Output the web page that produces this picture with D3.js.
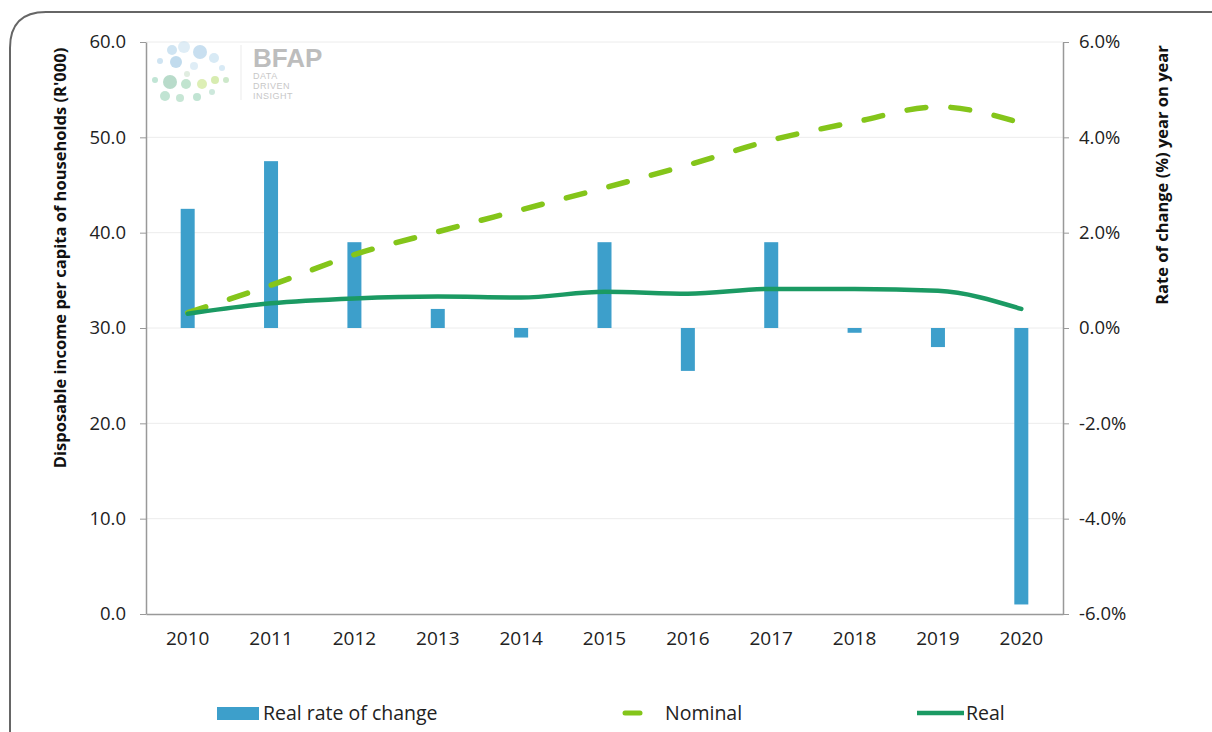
<!DOCTYPE html>
<html>
<head>
<meta charset="utf-8">
<script src="https://cdn.jsdelivr.net/npm/d3@7"></script>
<style>
  body { margin: 0; background: #fff; }
  svg { display: block; font-family: "Open Sans", sans-serif; }
</style>
</head>
<body>
<svg id="chart" width="1212" height="732"></svg>
<script>
// chart values
const years = ['2010', '2011', '2012', '2013', '2014', '2015', '2016', '2017', '2018', '2019', '2020'];
const realRate = [2.5, 3.5, 1.8, 0.4, -0.2, 1.8, -0.9, 1.8, -0.1, -0.4, -5.8];
const nominal = [31.6, 34.5, 37.7, 40.1, 42.4, 44.7, 47.1, 49.7, 51.6, 53.2, 51.5];
const real = [31.5, 32.6, 33.1, 33.3, 33.2, 33.8, 33.6, 34.1, 34.1, 33.9, 32.0];
const leftTicks = [0, 10, 20, 30, 40, 50, 60];
const rightTicks = [-6, -4, -2, 0, 2, 4, 6];

const svg = d3.select('#chart');
const plotLeft = 146, plotRight = 1063, plotTop = 42, plotBottom = 614;

const x = d3.scaleBand().domain(years).range([plotLeft, plotRight]);
const yL = d3.scaleLinear().domain([0, 60]).range([plotBottom, plotTop]);
const yR = d3.scaleLinear().domain([-6, 6]).range([plotBottom, plotTop]);

// frame with the rounded corner
svg.append('path')
    .attr('d', 'M10,732 L10,48 Q10,12 46,12 L1212,12')
    .attr('fill', 'none')
    .attr('stroke', '#666')
    .attr('stroke-width', 2);

// grid
svg.append('g').selectAll('line')
    .data(leftTicks.filter(d => d > 0))
    .join('line')
    .attr('x1', plotLeft).attr('x2', plotRight)
    .attr('y1', d => yL(d)).attr('y2', d => yL(d))
    .attr('stroke', '#ececec');

// logo
const logo = svg.append('g').attr('opacity', 0.55);
const dots = [
    [172, 50, 5, '#a9cfe8'], [184, 47, 6, '#c6e0f0'], [200, 52, 7, '#9cc6e4'], [214, 58, 5, '#b9d9ee'],
    [160, 61, 3, '#a9cfe8'], [176, 62, 6, '#8fbfe0'], [194, 66, 4, '#c6e0f0'], [222, 68, 3, '#b9d9ee'],
    [155, 80, 3, '#8fd0b4'], [170, 82, 7, '#7fbf9f'], [186, 84, 5, '#8fcfa8'], [202, 84, 5, '#c3e27a'],
    [215, 80, 4, '#b8de70'], [226, 80, 3, '#a6d7a0'], [165, 96, 5, '#8fcfb0'], [180, 98, 4, '#9ad3b4'],
    [197, 97, 4, '#8fcfb0'], [212, 92, 3, '#a6d7c0'], [187, 74, 3, '#c8dfc8']
];
logo.selectAll('circle').data(dots).join('circle')
    .attr('cx', d => d[0]).attr('cy', d => d[1]).attr('r', d => d[2]).attr('fill', d => d[3]);
logo.append('line').attr('x1', 241).attr('x2', 241).attr('y1', 45).attr('y2', 100)
    .attr('stroke', '#ddd');
logo.append('text').attr('x', 253).attr('y', 67).text('BFAP')
    .attr('font-size', 26).attr('font-weight', 'bold').attr('fill', '#888')
    .attr('font-family', 'Liberation Sans, Arial, sans-serif');
['DATA', 'DRIVEN', 'INSIGHT'].forEach((t, i) => {
    logo.append('text').attr('x', 253).attr('y', 79 + i * 10).text(t)
        .attr('font-size', 9).attr('fill', '#999').attr('letter-spacing', 0.5)
        .attr('font-family', 'Liberation Sans, Arial, sans-serif');
});

// bars on the right axis
svg.append('g').selectAll('rect')
    .data(realRate)
    .join('rect')
    .attr('x', (d, i) => x(years[i]) + x.bandwidth() / 2 - 7)
    .attr('width', 14)
    .attr('y', d => yR(Math.max(0, d)))
    .attr('height', d => Math.abs(yR(d) - yR(0)))
    .attr('fill', '#3d9fcb');

// lines
const line = d3.line()
    .x((d, i) => x(years[i]) + x.bandwidth() / 2)
    .y(d => yL(d))
    .curve(d3.curveMonotoneX);

svg.append('path')
    .datum(nominal)
    .attr('d', line)
    .attr('fill', 'none')
    .attr('stroke', '#84c51a')
    .attr('stroke-width', 5.5)
    .attr('stroke-linecap', 'round')
    .attr('stroke-dasharray', '19,25');

svg.append('path')
    .datum(real)
    .attr('d', line)
    .attr('fill', 'none')
    .attr('stroke', '#1b9a63')
    .attr('stroke-width', 4.5)
    .attr('stroke-linecap', 'round');

// axes
const pct = d => d3.format('.1f')(d).replace('−', '-') + '%';

const axisStyle = g => {
    g.select('.domain').attr('stroke', '#999').attr('stroke-width', 1.5);
    g.selectAll('.tick line').attr('stroke', '#999');
    g.selectAll('.tick text').attr('font-size', 18.5).attr('fill', '#222')
        .attr('font-family', '"Open Sans", sans-serif');
};

svg.append('g')
    .attr('transform', `translate(${plotLeft},0)`)
    .call(d3.axisLeft(yL).tickValues(leftTicks).tickFormat(d3.format('.1f')).tickSize(6).tickPadding(14).tickSizeOuter(0))
    .call(axisStyle);

svg.append('g')
    .attr('transform', `translate(${plotRight},0)`)
    .call(d3.axisRight(yR).tickValues(rightTicks).tickFormat(pct).tickSize(6).tickPadding(10).tickSizeOuter(0))
    .call(axisStyle);

svg.append('g')
    .attr('transform', `translate(0,${plotBottom})`)
    .call(d3.axisBottom(x).tickSize(0).tickPadding(18).tickSizeOuter(0))
    .call(axisStyle)
    .call(g => g.selectAll('.tick text').attr('font-size', 19));

// axis titles
svg.append('text')
    .attr('transform', 'translate(66,258) rotate(-90)')
    .attr('text-anchor', 'middle')
    .attr('font-size', 16.5).attr('font-weight', 'bold').attr('fill', '#111')
    .text("Disposable income per capita of households (R'000)");

svg.append('text')
    .attr('transform', 'translate(1168,175) rotate(-90)')
    .attr('text-anchor', 'middle')
    .attr('font-size', 16.5).attr('font-weight', 'bold').attr('fill', '#111')
    .text('Rate of change (%) year on year');

// legend
const legend = svg.append('g').attr('font-size', 19.5).attr('fill', '#222');
legend.append('rect').attr('x', 217).attr('y', 707).attr('width', 42).attr('height', 13).attr('fill', '#3d9fcb');
legend.append('text').attr('x', 263).attr('y', 720).text('Real rate of change');
legend.append('line').attr('x1', 625).attr('x2', 640).attr('y1', 713).attr('y2', 713)
    .attr('stroke', '#84c51a').attr('stroke-width', 5).attr('stroke-linecap', 'round');
legend.append('text').attr('x', 665).attr('y', 720).text('Nominal');
legend.append('line').attr('x1', 917).attr('x2', 964).attr('y1', 713).attr('y2', 713)
    .attr('stroke', '#1b9a63').attr('stroke-width', 4.5);
legend.append('text').attr('x', 966).attr('y', 720).text('Real');
</script>
</body>
</html>
